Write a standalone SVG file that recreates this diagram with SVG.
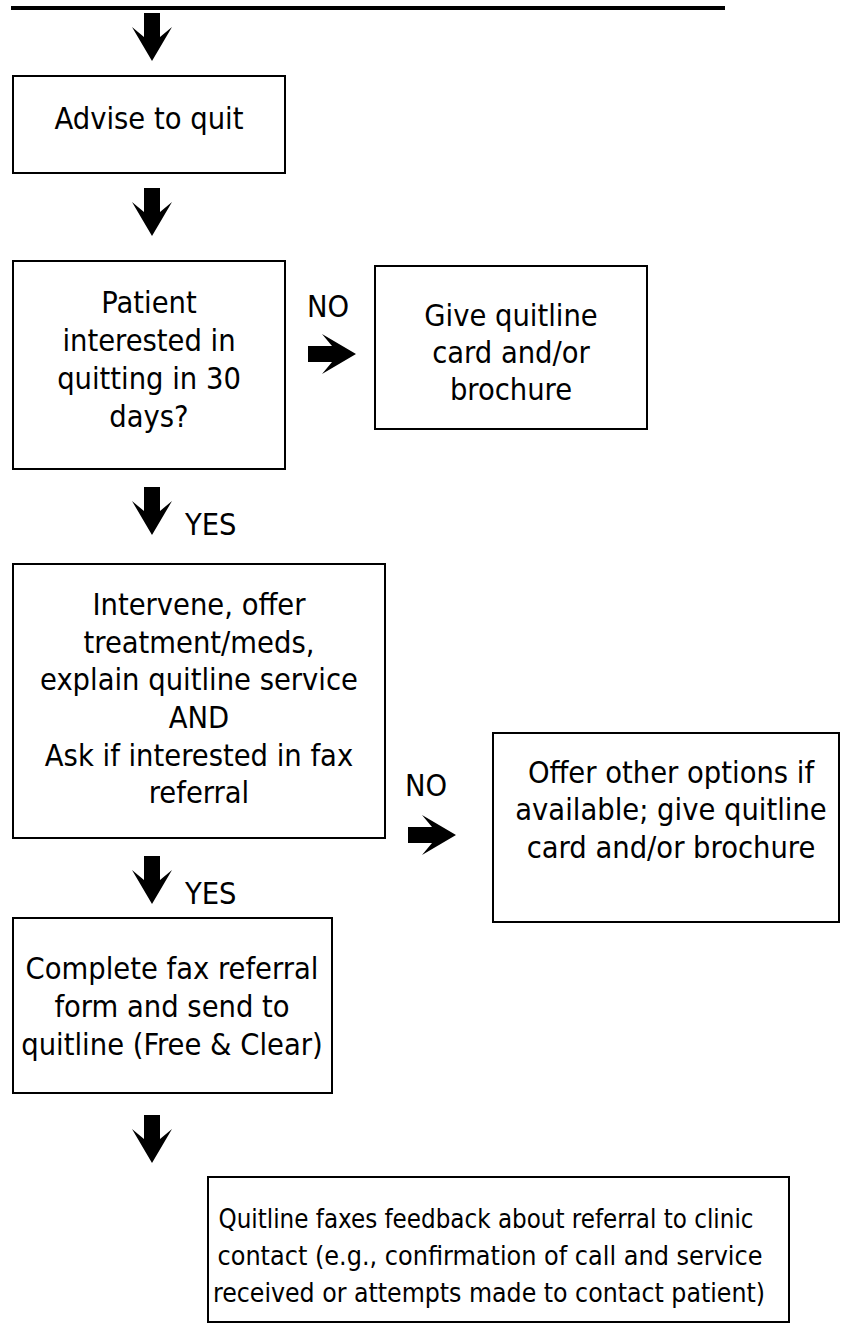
<svg xmlns="http://www.w3.org/2000/svg" width="841" height="1340" viewBox="0 0 841 1340">
<style>
.box{fill:#fff;stroke:#000;stroke-width:2}
text{font-family:"DejaVu Sans Condensed","DejaVu Sans",sans-serif;font-stretch:condensed;font-size:30.5px;fill:#000;text-anchor:middle}
.lbl{text-anchor:start}
.sm{font-size:26px}
.arr{fill:#000}
</style>
<defs>
<path id="darr" d="M-8,0 H8 V24 L20,14 L0,48 L-20,14 L-8,24 Z"/>
</defs>
<rect x="11" y="6" width="714" height="4" fill="#000"/>
<g id="connectors">
<use href="#darr" class="arr" transform="translate(152,13)"/>
<use href="#darr" class="arr" transform="translate(152,188)"/>
<use href="#darr" class="arr" transform="translate(152,487)"/>
<use href="#darr" class="arr" transform="translate(152,856)"/>
<use href="#darr" class="arr" transform="translate(152,1115)"/>
<use href="#darr" class="arr" transform="translate(308,354) rotate(-90)"/>
<use href="#darr" class="arr" transform="translate(408,835) rotate(-90)"/>
<text class="lbl" x="307" y="317">NO</text>
<text class="lbl" x="405" y="796">NO</text>
<text class="lbl" x="185" y="535">YES</text>
<text class="lbl" x="185" y="904">YES</text>
</g>
<g id="advise">
<rect class="box" x="13" y="76" width="272" height="97"/>
<text x="149" y="129">Advise to quit</text>
</g>
<g id="interested">
<rect class="box" x="13" y="261" width="272" height="208"/>
<text x="149" y="313">Patient</text>
<text x="149" y="351">interested in</text>
<text x="149" y="389">quitting in 30</text>
<text x="149" y="427">days?</text>
</g>
<g id="give-card">
<rect class="box" x="375" y="266" width="272" height="163"/>
<text x="511" y="326">Give quitline</text>
<text x="511" y="363">card and/or</text>
<text x="511" y="400">brochure</text>
</g>
<g id="intervene">
<rect class="box" x="13" y="564" width="372" height="274"/>
<text x="199" y="615">Intervene, offer</text>
<text x="199" y="653">treatment/meds,</text>
<text x="199" y="690">explain quitline service</text>
<text x="199" y="728">AND</text>
<text x="199" y="766">Ask if interested in fax</text>
<text x="199" y="803">referral</text>
</g>
<g id="other-options">
<rect class="box" x="493" y="733" width="346" height="189"/>
<text x="671" y="783">Offer other options if</text>
<text x="671" y="820">available; give quitline</text>
<text x="671" y="858">card and/or brochure</text>
</g>
<g id="fax-referral">
<rect class="box" x="13" y="918" width="319" height="175"/>
<text x="172" y="979">Complete fax referral</text>
<text x="172" y="1017">form and send to</text>
<text x="172" y="1055">quitline (Free &amp; Clear)</text>
</g>
<g id="feedback">
<rect class="box" x="208" y="1177" width="581" height="145"/>
<text class="sm" x="486" y="1228" textLength="535" lengthAdjust="spacingAndGlyphs">Quitline faxes feedback about referral to clinic</text>
<text class="sm" x="490" y="1265" textLength="545" lengthAdjust="spacingAndGlyphs">contact (e.g., confirmation of call and service</text>
<text class="sm" x="489" y="1302" textLength="552" lengthAdjust="spacingAndGlyphs">received or attempts made to contact patient)</text>
</g>
</svg>
